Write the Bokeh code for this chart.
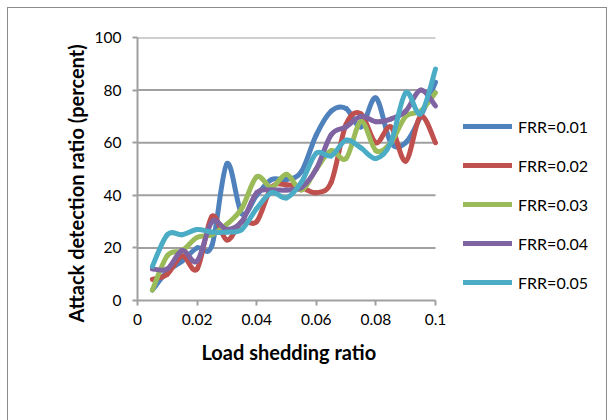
import numpy as np
from bokeh.plotting import figure
from bokeh.models import Legend, LegendItem, FixedTicker, Range1d, InlineStyleSheet, Title
from bokeh.embed import file_html
from bokeh.resources import INLINE

load_ratio = [0.005, 0.01, 0.015, 0.02, 0.025, 0.03, 0.035, 0.04, 0.045, 0.05,
              0.055, 0.06, 0.065, 0.07, 0.075, 0.08, 0.085, 0.09, 0.095, 0.1]
frr_001 = [4, 11, 15, 20, 21, 52, 33, 40, 46, 46, 49, 63, 72, 73, 66, 77, 60, 60, 70, 83]
frr_002 = [8, 10, 17, 12, 32, 23, 30, 30, 43, 44, 43, 41, 45, 67, 71, 60, 66, 53, 70, 60]
frr_003 = [4, 17, 19, 24, 25, 29, 35, 47, 43, 48, 42, 50, 57, 54, 68, 57, 60, 70, 72, 79]
frr_004 = [12, 12, 19, 15, 30, 27, 30, 41, 42, 42, 43, 50, 63, 66, 70, 68, 69, 72, 80, 74]
frr_005 = [13, 25, 25, 27, 26, 26, 27, 35, 41, 39, 45, 56, 55, 61, 58, 54, 60, 79, 71, 88]

series_names = ["FRR=0.01", "FRR=0.02", "FRR=0.03", "FRR=0.04", "FRR=0.05"]
series_values = [frr_001, frr_002, frr_003, frr_004, frr_005]
colors = ["#4F81BD", "#C0504D", "#9BBB59", "#8064A2", "#4BACC6"]

x_ticks = [0, 0.02, 0.04, 0.06, 0.08, 0.1]
x_tick_labels = ["0", "0.02", "0.04", "0.06", "0.08", "0.1"]
y_ticks = [0, 20, 40, 60, 80, 100]
x_title = "Load shedding ratio"
y_title = "Attack detection ratio (percent)"

FONT = "Lato"
GRAY = "#A0A0A0"

# layout: plot area spans x 137..435 px for 0..0.1; the frame is widened to the
# right edge so the legend (inside the frame) is not clipped.
LEFT, PLOT_RIGHT, W = 137, 435, 612
x_end = 0.1 * (W - LEFT) / (PLOT_RIGHT - LEFT)

p = figure(width=W, height=420, output_backend="svg", toolbar_location=None,
           x_range=Range1d(0, x_end), y_range=Range1d(0, 100),
           min_border_left=LEFT, min_border_right=0, min_border_top=37, min_border_bottom=120)
p.outline_line_color = None
p.background_fill_color = "white"
p.border_fill_color = "white"

# outer chart border (drawn with CSS on the plot host)
p.stylesheets = [InlineStyleSheet(css=(
    ":host::after { content: ''; position: absolute; left: 7px; top: 7px; "
    "width: 600px; height: 420px; border: 1.5px solid #8C8C8C; border-bottom: none; "
    "box-sizing: border-box; pointer-events: none; }"
    ":host { overflow: hidden; }"))]

# axes
for ax in (p.xaxis[0], p.yaxis[0]):
    ax.axis_line_color = GRAY
    ax.axis_line_width = 2
    ax.major_tick_line_color = GRAY
    ax.major_tick_line_width = 2
    ax.major_tick_in = 0
    ax.major_tick_out = 5
    ax.minor_tick_line_color = None
    ax.major_label_text_font = FONT
    ax.major_label_text_font_size = "15.5px"
    ax.major_label_text_color = "#000000"

p.xaxis.ticker = FixedTicker(ticks=x_ticks)
p.xaxis.major_label_overrides = {t: l for t, l in zip(x_ticks, x_tick_labels)}
p.xaxis.major_label_standoff = 8
p.xaxis.bounds = (0, 0.1)

p.yaxis.ticker = FixedTicker(ticks=y_ticks)
p.yaxis.major_label_standoff = 11

# horizontal gridlines limited to the plot area
p.xgrid.grid_line_color = None
p.ygrid.grid_line_color = None
gy = [t for t in y_ticks if t > 0]
p.segment(x0=[0] * len(gy), x1=[0.1] * len(gy), y0=gy, y1=gy,
          line_color=GRAY, line_width=2, level="underlay")

# axis titles
p.add_layout(Title(text=x_title, align="left", offset=64,
                   text_font=FONT, text_font_size="20px", text_font_style="bold",
                   text_color="#000000", standoff=21), "below")
p.add_layout(Title(text=y_title, align="left", offset=-22,
                   text_font=FONT, text_font_size="20px", text_font_style="bold",
                   text_color="#000000", standoff=8), "left")

# smooth lines (Excel-like Catmull-Rom beziers)
xs = np.array(load_ratio, dtype=float)
items = []
for name, vals, col in zip(series_names, series_values, colors):
    ys = np.array(vals, dtype=float)
    n = len(xs)
    x0, y0, x1, y1, cx0, cy0, cx1, cy1 = [], [], [], [], [], [], [], []
    for i in range(n - 1):
        ip = max(i - 1, 0)
        i2 = min(i + 2, n - 1)
        x0.append(xs[i]); y0.append(ys[i])
        x1.append(xs[i + 1]); y1.append(ys[i + 1])
        cx0.append(xs[i] + (xs[i + 1] - xs[ip]) / 6.0)
        cy0.append(ys[i] + (ys[i + 1] - ys[ip]) / 6.0)
        cx1.append(xs[i + 1] - (xs[i2] - xs[i]) / 6.0)
        cy1.append(ys[i + 1] - (ys[i2] - ys[i]) / 6.0)
    r = p.bezier(x0=x0, y0=y0, x1=x1, y1=y1, cx0=cx0, cy0=cy0, cx1=cx1, cy1=cy1,
                 line_color=col, line_width=5, line_cap="round")
    items.append(LegendItem(label=name, renderers=[r]))

legend = Legend(items=items, location=(463 - LEFT, 8), orientation="vertical",
                glyph_width=49, glyph_height=20, label_height=20, spacing=19,
                label_standoff=6, padding=0, margin=0,
                label_text_font=FONT, label_text_font_size="16px",
                label_text_color="#000000",
                border_line_color=None, background_fill_alpha=0)
p.add_layout(legend, "center")

open("out.html", "w").write(file_html(p, INLINE))
